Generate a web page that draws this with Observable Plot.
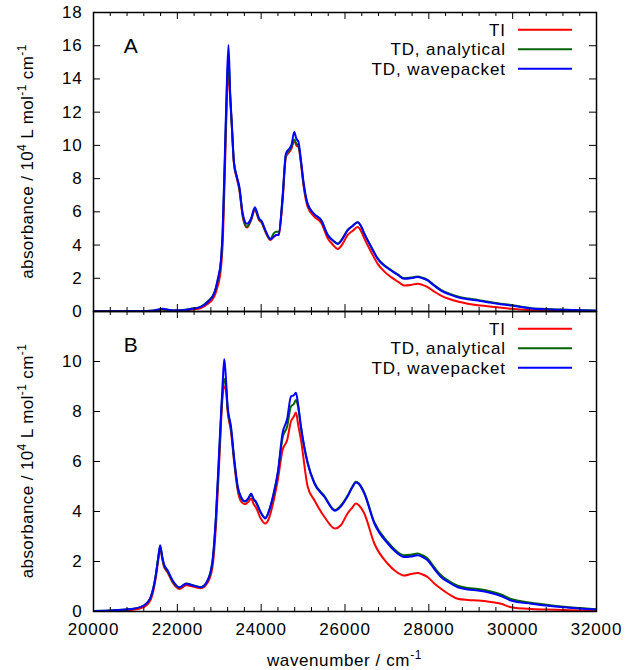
<!DOCTYPE html>
<html><head><meta charset="utf-8">
<script src="https://cdn.jsdelivr.net/npm/d3@7"></script>
<script src="https://cdn.jsdelivr.net/npm/@observablehq/plot@0.6"></script>
<style>
body{margin:0;background:#fff}
#chart{position:relative;width:634px;height:670px;background:#fff;font-family:"Liberation Sans",Arial,sans-serif}
#chart svg{position:absolute;left:0;overflow:visible}
</style></head><body><div id="chart"></div>
<script>
// ---------- data ----------
const seriesNames = ["TI", "TD, analytical", "TD, wavepacket"];
const seriesColors = ["#ff0000", "#006400", "#0000ff"];
const xMajorTicks = [20000, 22000, 24000, 26000, 28000, 30000, 32000];
const xMinorTicks = [20400,20800,21200,21600,22400,22800,23200,23600,24400,24800,25200,25600,26400,26800,27200,27600,28400,28800,29200,29600,30400,30800,31200,31600];
const yTicksA = [0, 2, 4, 6, 8, 10, 12, 14, 16, 18];
const yTicksB = [0, 2, 4, 6, 8, 10];

const wavenumberA = [20000,20500,21000,21400,21650,21900,22100,22350,22550,22720,22880,22960,23040,23080,23140,23180,23220,23260,23300,23350,23420,23480,23560,23660,23760,23850,23950,24010,24100,24220,24300,24360,24420,24510,24590,24670,24720,24790,24840,24890,24950,25010,25110,25270,25430,25590,25700,25830,25950,26060,26180,26300,26380,26460,26620,26780,26940,27100,27260,27410,27570,27730,27850,27970,28130,28290,28490,28690,28930,29170,29400,29640,29960,30440,30800,31230,31600,32000];
const tiA = [0.01,0.01,0.02,0.04,0.12,0.05,0.05,0.12,0.2,0.45,0.9,1.5,2.6,4.0,9.0,12.6,14.6,12.9,11.1,8.9,8.0,7.3,5.7,5.05,5.5,6.1,5.5,5.35,4.8,4.3,4.5,4.6,4.65,6.6,9.3,9.6,9.8,10.3,10.0,9.9,8.9,7.6,6.3,5.7,5.35,4.4,4.05,3.77,4.1,4.6,4.85,5.08,4.85,4.4,3.6,2.87,2.4,2.07,1.8,1.57,1.6,1.67,1.6,1.47,1.2,0.96,0.75,0.6,0.47,0.38,0.32,0.25,0.16,0.08,0.05,0.04,0.03,0.02];
const tdAnalyticalA = [0.02,0.02,0.03,0.05,0.14,0.06,0.08,0.18,0.28,0.6,1.1,1.8,3.0,4.6,9.6,13.2,15.3,13.0,11.2,9.0,8.1,7.4,5.8,5.1,5.55,6.2,5.55,5.4,4.85,4.35,4.7,4.8,4.8,6.8,9.4,9.7,9.9,10.35,10.1,10.0,9.0,7.7,6.45,5.85,5.5,4.6,4.3,4.1,4.45,4.9,5.15,5.38,5.15,4.7,3.92,3.2,2.78,2.5,2.23,2.0,2.04,2.1,2.03,1.9,1.58,1.3,1.07,0.9,0.78,0.7,0.6,0.5,0.39,0.2,0.15,0.11,0.08,0.06];
const tdWavepacketA = [0.02,0.02,0.03,0.05,0.16,0.06,0.07,0.16,0.26,0.56,1.1,1.9,3.1,4.8,10.0,13.6,16.05,13.2,11.3,9.0,8.1,7.5,5.9,5.28,5.6,6.28,5.6,5.45,4.9,4.37,4.5,4.6,4.6,6.9,9.5,9.8,10.0,10.8,10.4,10.2,9.1,7.8,6.48,5.85,5.5,4.6,4.3,4.07,4.4,4.88,5.15,5.38,5.15,4.68,3.9,3.17,2.75,2.47,2.2,1.97,2.0,2.07,2.0,1.87,1.55,1.26,1.03,0.86,0.74,0.66,0.56,0.46,0.36,0.18,0.13,0.1,0.07,0.05];

const wavenumberB = [20000,20500,20900,21200,21370,21490,21540,21590,21640,21680,21770,21890,22050,22210,22370,22560,22720,22840,22920,23000,23080,23120,23160,23200,23280,23360,23440,23520,23610,23700,23760,23820,23880,23980,24100,24180,24280,24400,24510,24620,24710,24780,24830,24880,24950,25110,25270,25510,25760,25900,26060,26170,26260,26330,26460,26700,27020,27200,27410,27570,27730,27850,27970,28130,28290,28490,28690,28930,29170,29480,29720,29960,30440,30800,31230,31600,32000];
const tiB = [0.01,0.03,0.06,0.18,0.5,1.4,2.0,2.55,2.1,1.8,1.55,1.15,0.9,1.05,1.0,0.93,1.15,1.8,3.4,6.0,8.6,9.0,8.9,8.0,7.2,5.9,4.85,4.4,4.29,4.4,4.52,4.3,4.15,3.75,3.52,3.7,4.3,5.3,6.46,6.86,7.6,7.8,7.96,7.5,6.86,4.99,4.45,3.78,3.32,3.45,3.92,4.15,4.32,4.25,3.92,2.72,1.91,1.62,1.44,1.5,1.54,1.48,1.38,1.12,0.91,0.68,0.51,0.46,0.44,0.38,0.31,0.17,0.1,0.08,0.06,0.04,0.03];
const tdAnalyticalB = [0.02,0.05,0.1,0.24,0.6,1.5,2.1,2.6,2.15,1.85,1.6,1.2,0.95,1.12,1.05,0.97,1.22,2.0,3.7,6.3,8.8,9.3,9.0,8.1,7.3,6.0,4.95,4.55,4.4,4.52,4.68,4.48,4.35,3.98,3.75,3.98,4.55,5.55,6.95,7.4,8.2,8.3,8.46,8.2,7.35,5.95,5.15,4.62,4.06,4.24,4.63,4.98,5.19,5.13,4.76,3.57,2.78,2.46,2.25,2.27,2.32,2.25,2.12,1.77,1.45,1.21,1.03,0.94,0.9,0.8,0.68,0.5,0.35,0.27,0.19,0.14,0.09];
const tdWavepacketB = [0.02,0.05,0.1,0.24,0.6,1.5,2.1,2.65,2.2,1.9,1.64,1.24,0.97,1.11,1.04,0.97,1.24,2.05,3.8,6.5,9.1,10.1,9.3,8.2,7.4,6.06,5.0,4.58,4.41,4.55,4.72,4.5,4.38,4.0,3.72,4.0,4.6,5.6,7.13,7.7,8.6,8.65,8.75,8.3,7.39,5.92,5.12,4.58,4.03,4.2,4.6,4.95,5.16,5.1,4.72,3.52,2.72,2.4,2.18,2.2,2.25,2.18,2.05,1.7,1.38,1.15,0.97,0.88,0.84,0.74,0.62,0.44,0.31,0.24,0.17,0.12,0.08];

// ---------- layout ----------
const WIDTH = 634, ML = 93, MR = 38;
const FW = WIDTH - ML - MR;
const FONT = "'Liberation Sans', Arial, sans-serif";
const chart = document.getElementById("chart");

function makePanel({wn, series, yDomain, yTicks, height, marginTop, marginBottom, top, letter, showX}) {
  const fh = height - marginTop - marginBottom;
  const rows = wn.flatMap((w, i) => seriesNames.map((s, k) => ({w, v: series[k][i], s})));
  const marks = [
    Plot.line(rows, {x: "w", y: "v", z: "s", stroke: "s", strokeWidth: 2, curve: "monotone-x", clip: true}),
    // inward ticks on all four sides
    Plot.tickX(xMajorTicks, {x: d => d, insetTop: fh - 7, stroke: "#000", strokeWidth: 1}),
    Plot.tickX(xMajorTicks, {x: d => d, insetBottom: fh - 7, stroke: "#000", strokeWidth: 1}),
    Plot.tickX(xMinorTicks, {x: d => d, insetTop: fh - 4, stroke: "#000", strokeWidth: 1}),
    Plot.tickX(xMinorTicks, {x: d => d, insetBottom: fh - 4, stroke: "#000", strokeWidth: 1}),
    Plot.tickY(yTicks, {y: d => d, insetRight: FW - 7, stroke: "#000", strokeWidth: 1}),
    Plot.tickY(yTicks, {y: d => d, insetLeft: FW - 7, stroke: "#000", strokeWidth: 1}),
    Plot.frame({stroke: "#000", strokeWidth: 1.5}),
    Plot.axisY(yTicks, {tickSize: 0, tickPadding: 11, tickFormat: d => String(d), label: null})
  ];
  if (showX) marks.push(Plot.axisX(xMajorTicks, {tickSize: 0, tickPadding: 11, tickFormat: d => String(d), label: null}));
  const svg = Plot.plot({
    width: WIDTH, height, marginTop, marginBottom, marginLeft: ML, marginRight: MR,
    x: {domain: [20000, 32000], axis: showX ? undefined : null},
    y: {domain: yDomain},
    color: {domain: seriesNames, range: seriesColors},
    style: {fontFamily: FONT, fontSize: "17px", letterSpacing: "0.8px", color: "#000", background: "transparent", overflow: "visible"},
    marks
  });
  svg.style.top = top + "px";
  const g = d3.select(svg).append("g").attr("font-family", FONT).attr("fill", "#000");
  // panel letter
  g.append("text").attr("x", 131).attr("y", marginTop + 40.5).attr("text-anchor", "middle")
    .attr("font-size", "21px").attr("letter-spacing", "0.5px").text(letter);
  // legend
  seriesNames.forEach((name, k) => {
    const cy = marginTop + 17.8 + k * 19.5;
    g.append("text").attr("x", 506).attr("y", cy + 6).attr("text-anchor", "end")
      .attr("font-size", "17px").attr("letter-spacing", "0.9px").text(name);
    g.append("line").attr("x1", 518).attr("x2", 572).attr("y1", cy).attr("y2", cy)
      .attr("stroke", seriesColors[k]).attr("stroke-width", 2);
  });
  // y-axis label with superscripts
  const cyLabel = marginTop + fh / 2;
  const t = g.append("text").attr("transform", `translate(33,${cyLabel}) rotate(-90)`)
    .attr("text-anchor", "middle").attr("font-size", "17px").attr("letter-spacing", "0.4px");
  t.append("tspan").text("absorbance / 10");
  t.append("tspan").attr("dy", -7).attr("font-size", "12px").text("4");
  t.append("tspan").attr("dy", 7).text(" L mol");
  t.append("tspan").attr("dy", -7).attr("font-size", "12px").text("-1");
  t.append("tspan").attr("dy", 7).text(" cm");
  t.append("tspan").attr("dy", -7).attr("font-size", "12px").text("-1");
  if (showX) {
    const xl = g.append("text").attr("x", ML + FW / 2).attr("y", marginTop + fh + 55)
      .attr("text-anchor", "middle").attr("font-size", "17px").attr("letter-spacing", "0.6px");
    xl.append("tspan").text("wavenumber / cm");
    xl.append("tspan").attr("dy", -7).attr("font-size", "12px").text("-1");
  }
  chart.appendChild(svg);
}

makePanel({wn: wavenumberA, series: [tiA, tdAnalyticalA, tdWavepacketA], yDomain: [0, 18], yTicks: yTicksA,
  height: 312, marginTop: 12, marginBottom: 1, top: 0, letter: "A", showX: false});
makePanel({wn: wavenumberB, series: [tiB, tdAnalyticalB, tdWavepacketB], yDomain: [0, 12], yTicks: yTicksB,
  height: 359, marginTop: 0, marginBottom: 59, top: 311, letter: "B", showX: true});
</script></body></html>
